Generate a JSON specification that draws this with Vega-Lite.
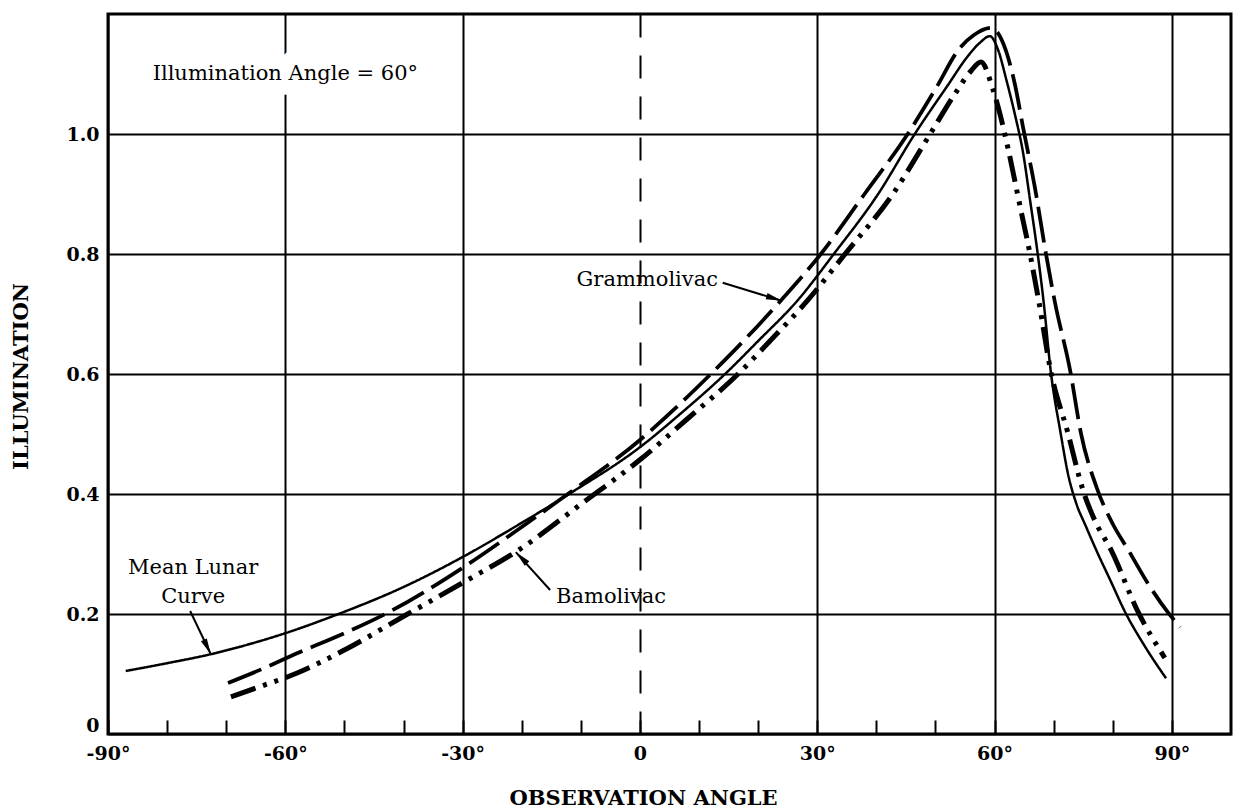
{
  "$schema": "https://vega.github.io/schema/vega-lite/v6.json",
  "width": 1123,
  "height": 720,
  "autosize": {"type": "none"},
  "padding": {"left": 108, "top": 14, "right": 7, "bottom": 75},
  "background": "white",
  "config": {
    "view": {"stroke": "black", "strokeWidth": 3},
    "font": "DejaVu Serif",
    "axis": {
      "domain": false,
      "labelColor": "black",
      "titleColor": "black",
      "labelFont": "DejaVu Serif",
      "titleFont": "DejaVu Serif",
      "labelFontWeight": "bold",
      "titleFontWeight": "bold",
      "labelFontSize": 19,
      "titleFontSize": 21,
      "gridColor": "black"
    }
  },
  "datasets": {
    "curves": [
      {"series": "Mean Lunar Curve", "angle": -87, "value": 0.105},
      {"series": "Mean Lunar Curve", "angle": -80, "value": 0.118},
      {"series": "Mean Lunar Curve", "angle": -72.6, "value": 0.133},
      {"series": "Mean Lunar Curve", "angle": -66, "value": 0.15},
      {"series": "Mean Lunar Curve", "angle": -60, "value": 0.168},
      {"series": "Mean Lunar Curve", "angle": -51, "value": 0.2},
      {"series": "Mean Lunar Curve", "angle": -40, "value": 0.245},
      {"series": "Mean Lunar Curve", "angle": -30, "value": 0.295},
      {"series": "Mean Lunar Curve", "angle": -20, "value": 0.352},
      {"series": "Mean Lunar Curve", "angle": -12, "value": 0.4},
      {"series": "Mean Lunar Curve", "angle": 0, "value": 0.478},
      {"series": "Mean Lunar Curve", "angle": 7, "value": 0.535},
      {"series": "Mean Lunar Curve", "angle": 14.4, "value": 0.6},
      {"series": "Mean Lunar Curve", "angle": 20, "value": 0.655},
      {"series": "Mean Lunar Curve", "angle": 26.7, "value": 0.723},
      {"series": "Mean Lunar Curve", "angle": 32.8, "value": 0.8},
      {"series": "Mean Lunar Curve", "angle": 40.3, "value": 0.9},
      {"series": "Mean Lunar Curve", "angle": 46.5, "value": 1.0},
      {"series": "Mean Lunar Curve", "angle": 52, "value": 1.08},
      {"series": "Mean Lunar Curve", "angle": 55.5, "value": 1.13},
      {"series": "Mean Lunar Curve", "angle": 57.5, "value": 1.152},
      {"series": "Mean Lunar Curve", "angle": 59.2, "value": 1.163},
      {"series": "Mean Lunar Curve", "angle": 60.6, "value": 1.14},
      {"series": "Mean Lunar Curve", "angle": 62, "value": 1.09},
      {"series": "Mean Lunar Curve", "angle": 63.5, "value": 1.03},
      {"series": "Mean Lunar Curve", "angle": 64.8, "value": 0.97},
      {"series": "Mean Lunar Curve", "angle": 66, "value": 0.89},
      {"series": "Mean Lunar Curve", "angle": 67.3, "value": 0.8},
      {"series": "Mean Lunar Curve", "angle": 68.3, "value": 0.72},
      {"series": "Mean Lunar Curve", "angle": 69.5, "value": 0.605},
      {"series": "Mean Lunar Curve", "angle": 71.2, "value": 0.5},
      {"series": "Mean Lunar Curve", "angle": 72.5, "value": 0.43},
      {"series": "Mean Lunar Curve", "angle": 73.8, "value": 0.385},
      {"series": "Mean Lunar Curve", "angle": 75.5, "value": 0.345},
      {"series": "Mean Lunar Curve", "angle": 77.5, "value": 0.3},
      {"series": "Mean Lunar Curve", "angle": 79.5, "value": 0.258},
      {"series": "Mean Lunar Curve", "angle": 82.1, "value": 0.203},
      {"series": "Mean Lunar Curve", "angle": 85.5, "value": 0.145},
      {"series": "Mean Lunar Curve", "angle": 89, "value": 0.093},
      {"series": "Grammolivac", "angle": -69.7, "value": 0.085},
      {"series": "Grammolivac", "angle": -64, "value": 0.108},
      {"series": "Grammolivac", "angle": -57.9, "value": 0.135},
      {"series": "Grammolivac", "angle": -50, "value": 0.168},
      {"series": "Grammolivac", "angle": -43.1, "value": 0.2},
      {"series": "Grammolivac", "angle": -30, "value": 0.277},
      {"series": "Grammolivac", "angle": -20, "value": 0.345},
      {"series": "Grammolivac", "angle": -12.2, "value": 0.4},
      {"series": "Grammolivac", "angle": 0, "value": 0.49},
      {"series": "Grammolivac", "angle": 6, "value": 0.543},
      {"series": "Grammolivac", "angle": 12, "value": 0.6},
      {"series": "Grammolivac", "angle": 18, "value": 0.66},
      {"series": "Grammolivac", "angle": 23.9, "value": 0.723},
      {"series": "Grammolivac", "angle": 30.6, "value": 0.8},
      {"series": "Grammolivac", "angle": 38, "value": 0.9},
      {"series": "Grammolivac", "angle": 45.3, "value": 1.0},
      {"series": "Grammolivac", "angle": 50, "value": 1.075},
      {"series": "Grammolivac", "angle": 54.1, "value": 1.143},
      {"series": "Grammolivac", "angle": 56.5, "value": 1.165},
      {"series": "Grammolivac", "angle": 59.4, "value": 1.177},
      {"series": "Grammolivac", "angle": 61.5, "value": 1.15},
      {"series": "Grammolivac", "angle": 63.5, "value": 1.08},
      {"series": "Grammolivac", "angle": 64.8, "value": 1.012},
      {"series": "Grammolivac", "angle": 66.8, "value": 0.912},
      {"series": "Grammolivac", "angle": 68.7, "value": 0.8},
      {"series": "Grammolivac", "angle": 70.2, "value": 0.72},
      {"series": "Grammolivac", "angle": 72.8, "value": 0.605},
      {"series": "Grammolivac", "angle": 74.6, "value": 0.502},
      {"series": "Grammolivac", "angle": 77.3, "value": 0.41},
      {"series": "Grammolivac", "angle": 80, "value": 0.35},
      {"series": "Grammolivac", "angle": 82.6, "value": 0.307},
      {"series": "Grammolivac", "angle": 86, "value": 0.25},
      {"series": "Grammolivac", "angle": 89.3, "value": 0.203},
      {"series": "Grammolivac", "angle": 91.4, "value": 0.178},
      {"series": "Bamolivac", "angle": -69.2, "value": 0.062},
      {"series": "Bamolivac", "angle": -64, "value": 0.08},
      {"series": "Bamolivac", "angle": -57.9, "value": 0.102},
      {"series": "Bamolivac", "angle": -50, "value": 0.14},
      {"series": "Bamolivac", "angle": -39.3, "value": 0.2},
      {"series": "Bamolivac", "angle": -30, "value": 0.252},
      {"series": "Bamolivac", "angle": -20, "value": 0.31},
      {"series": "Bamolivac", "angle": -10, "value": 0.383},
      {"series": "Bamolivac", "angle": 0, "value": 0.457},
      {"series": "Bamolivac", "angle": 8, "value": 0.525},
      {"series": "Bamolivac", "angle": 16.6, "value": 0.6},
      {"series": "Bamolivac", "angle": 22, "value": 0.655},
      {"series": "Bamolivac", "angle": 28.4, "value": 0.723},
      {"series": "Bamolivac", "angle": 34.7, "value": 0.8},
      {"series": "Bamolivac", "angle": 42.8, "value": 0.9},
      {"series": "Bamolivac", "angle": 49.1, "value": 1.0},
      {"series": "Bamolivac", "angle": 53.5, "value": 1.07},
      {"series": "Bamolivac", "angle": 56, "value": 1.105},
      {"series": "Bamolivac", "angle": 57.7, "value": 1.12},
      {"series": "Bamolivac", "angle": 59.7, "value": 1.075},
      {"series": "Bamolivac", "angle": 61, "value": 1.03},
      {"series": "Bamolivac", "angle": 62.3, "value": 0.975},
      {"series": "Bamolivac", "angle": 64.3, "value": 0.88},
      {"series": "Bamolivac", "angle": 66, "value": 0.8},
      {"series": "Bamolivac", "angle": 67.5, "value": 0.72},
      {"series": "Bamolivac", "angle": 69.5, "value": 0.605},
      {"series": "Bamolivac", "angle": 72.4, "value": 0.502},
      {"series": "Bamolivac", "angle": 75, "value": 0.405},
      {"series": "Bamolivac", "angle": 77, "value": 0.355},
      {"series": "Bamolivac", "angle": 79.7, "value": 0.307},
      {"series": "Bamolivac", "angle": 84.3, "value": 0.203},
      {"series": "Bamolivac", "angle": 88.8, "value": 0.127}
    ],
    "notes": [
      {"note": "Illumination Angle = 60°", "angle": -60, "value": 1.1},
      {"note": "Mean Lunar\nCurve", "angle": -75.6, "value": 0.277},
      {"note": "Grammolivac", "angle": 13.2, "value": 0.757},
      {"note": "Bamolivac", "angle": -14.2, "value": 0.228}
    ],
    "arrows": [
      {"arrow": "Mean Lunar Curve", "angle": -76.1, "value": 0.205, "angle2": -72.6, "value2": 0.133},
      {"arrow": "Grammolivac", "angle": 14.0, "value": 0.752, "angle2": 24.0, "value2": 0.722},
      {"arrow": "Bamolivac", "angle": -15.2, "value": 0.24, "angle2": -21.0, "value2": 0.303}
    ]
  },
  "layer": [
    {
      "data": {"name": "curves"},
      "mark": {"type": "line", "color": "black", "interpolate": "monotone", "strokeCap": "butt"},
      "encoding": {
        "x": {
          "field": "angle",
          "type": "quantitative",
          "scale": {"domain": [-90, 100], "nice": false, "zero": false},
          "axis": {
            "values": [-90, -80, -70, -60, -50, -40, -30, -20, -10, 0, 10, 20, 30, 40, 50, 60, 70, 80, 90],
            "title": "OBSERVATION ANGLE",
            "labelExpr": "datum.value % 30 === 0 ? (datum.value === 0 ? '0' : datum.value + '°') : ''",
            "labelFlush": false,
            "labelOverlap": false,
            "labelPadding": 24,
            "grid": true,
            "gridWidth": 2,
            "gridOpacity": {"condition": {"test": "datum.value % 30 === 0", "value": 1}, "value": 0},
            "gridDash": {"condition": {"test": "datum.value === 0", "value": [23, 18]}, "value": []},
            "ticks": true,
            "tickSize": -14,
            "tickWidth": 2,
            "tickColor": "black",
            "titleX": 535,
            "titleY": 64,
            "titleBaseline": "middle"
          }
        },
        "y": {
          "field": "value",
          "type": "quantitative",
          "scale": {"domain": [0, 1.2], "nice": false},
          "axis": {
            "values": [0, 0.2, 0.4, 0.6, 0.8, 1.0],
            "title": "ILLUMINATION",
            "labelExpr": "datum.value === 0 ? '0' : format(datum.value, '.1f')",
            "labelOffset": {"condition": {"test": "datum.value === 0", "value": -9}, "value": 0},
            "ticks": false,
            "grid": true,
            "gridWidth": 2.2,
            "labelPadding": 9,
            "titleX": -87,
            "titleY": 362,
            "titleAlign": "center",
            "titleBaseline": "middle"
          }
        },
        "strokeDash": {
          "field": "series",
          "type": "nominal",
          "scale": {"domain": ["Mean Lunar Curve", "Grammolivac", "Bamolivac"], "range": [[1, 0], [36, 9], [26, 8, 4, 8, 4, 8]]},
          "legend": null
        },
        "strokeWidth": {
          "field": "series",
          "type": "ordinal",
          "scale": {"domain": ["Mean Lunar Curve", "Grammolivac", "Bamolivac"], "range": [2.5, 5, 4.5]},
          "legend": null
        }
      }
    },
    {
      "data": {"name": "notes"},
      "transform": [{"filter": "datum.note === 'Illumination Angle = 60°'"}],
      "mark": {"type": "text", "align": "center", "baseline": "middle", "fontSize": 21, "font": "DejaVu Serif", "color": "white", "stroke": "white", "strokeWidth": 30, "strokeJoin": "round"},
      "encoding": {
        "x": {"field": "angle", "type": "quantitative"},
        "y": {"field": "value", "type": "quantitative"},
        "text": {"field": "note"}
      }
    },
    {
      "data": {"name": "notes"},
      "transform": [{"filter": "datum.note === 'Illumination Angle = 60°' || datum.note === 'Mean Lunar\\nCurve'"}],
      "mark": {"type": "text", "align": "center", "baseline": "middle", "fontSize": 21, "font": "DejaVu Serif", "color": "black", "lineBreak": "\n", "lineHeight": 29},
      "encoding": {
        "x": {"field": "angle", "type": "quantitative"},
        "y": {"field": "value", "type": "quantitative"},
        "text": {"field": "note"}
      }
    },
    {
      "data": {"name": "notes"},
      "transform": [{"filter": "datum.note === 'Grammolivac'"}],
      "mark": {"type": "text", "align": "right", "baseline": "middle", "fontSize": 21, "font": "DejaVu Serif", "color": "black"},
      "encoding": {
        "x": {"field": "angle", "type": "quantitative"},
        "y": {"field": "value", "type": "quantitative"},
        "text": {"field": "note"}
      }
    },
    {
      "data": {"name": "notes"},
      "transform": [{"filter": "datum.note === 'Bamolivac'"}],
      "mark": {"type": "text", "align": "left", "baseline": "middle", "fontSize": 21, "font": "DejaVu Serif", "color": "black"},
      "encoding": {
        "x": {"field": "angle", "type": "quantitative"},
        "y": {"field": "value", "type": "quantitative"},
        "text": {"field": "note"}
      }
    },
    {
      "data": {"name": "arrows"},
      "mark": {"type": "rule", "color": "black", "strokeWidth": 2},
      "encoding": {
        "x": {"field": "angle", "type": "quantitative"},
        "y": {"field": "value", "type": "quantitative"},
        "x2": {"field": "angle2"},
        "y2": {"field": "value2"}
      }
    },
    {
      "data": {"name": "arrows"},
      "transform": [{"filter": "datum.arrow === 'Mean Lunar Curve'"}],
      "mark": {"type": "point", "filled": true, "color": "black", "opacity": 1, "shape": "M0,0L0.45,2.2L-0.45,2.2Z", "size": 210, "angle": 154},
      "encoding": {
        "x": {"field": "angle2", "type": "quantitative"},
        "y": {"field": "value2", "type": "quantitative"}
      }
    },
    {
      "data": {"name": "arrows"},
      "transform": [{"filter": "datum.arrow === 'Grammolivac'"}],
      "mark": {"type": "point", "filled": true, "color": "black", "opacity": 1, "shape": "M0,0L0.45,2.2L-0.45,2.2Z", "size": 210, "angle": 107},
      "encoding": {
        "x": {"field": "angle2", "type": "quantitative"},
        "y": {"field": "value2", "type": "quantitative"}
      }
    },
    {
      "data": {"name": "arrows"},
      "transform": [{"filter": "datum.arrow === 'Bamolivac'"}],
      "mark": {"type": "point", "filled": true, "color": "black", "opacity": 1, "shape": "M0,0L0.45,2.2L-0.45,2.2Z", "size": 210, "angle": 315},
      "encoding": {
        "x": {"field": "angle2", "type": "quantitative"},
        "y": {"field": "value2", "type": "quantitative"}
      }
    }
  ]
}
